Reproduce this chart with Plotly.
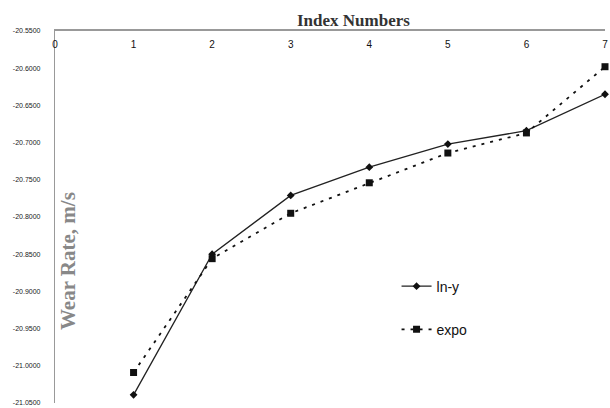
import plotly.graph_objects as go

index_numbers = [1, 2, 3, 4, 5, 6, 7]
ln_y = [-21.039, -20.850, -20.771, -20.733, -20.702, -20.684, -20.635]
expo = [-21.009, -20.856, -20.795, -20.754, -20.714, -20.687, -20.598]
x_ticks = [0, 1, 2, 3, 4, 5, 6, 7]
y_ticks = [-20.55, -20.60, -20.65, -20.70, -20.75, -20.80, -20.85, -20.90, -20.95, -21.00, -21.05]

fig = go.Figure()
fig.add_trace(go.Scatter(
    x=index_numbers, y=ln_y, name="ln-y", mode="lines+markers",
    line=dict(color="#222222", width=1.3),
    marker=dict(symbol="diamond", size=6, color="#111111"),
    cliponaxis=False, legendgroup="a"))
fig.add_trace(go.Scatter(
    x=index_numbers, y=expo, name="expo", mode="lines+markers",
    line=dict(color="#111111", width=1.8, dash="3px,6px"),
    marker=dict(symbol="square", size=7, color="#111111"),
    cliponaxis=False, legendgroup="b"))

# plot area target in page px: x 55..605, y 31..403
fig.update_layout(
    width=610, height=408,
    margin=dict(l=55, r=5, t=31, b=5),
    paper_bgcolor="white", plot_bgcolor="white",
    showlegend=True,
    legend=dict(x=0.621, y=0.356, xanchor="left", yanchor="top",
                font=dict(family="Liberation Sans, Arial", size=14, color="#111111"),
                bgcolor="rgba(0,0,0,0)", tracegroupgap=22, itemwidth=30),
    xaxis=dict(range=[0, 7], side="top", tickvals=x_ticks,
               ticktext=[str(v) for v in x_ticks],
               ticklabelposition="inside", ticklabeloverflow="allow",
               ticklabelstandoff=9,
               automargin=False, showgrid=False, zeroline=False,
               showline=True, linecolor="#999999", linewidth=1.5,
               ticks="", tickfont=dict(family="Liberation Sans, Arial", size=10, color="#111111")),
    yaxis=dict(range=[-21.05, -20.55], tickvals=y_ticks,
               ticktext=["%.4f" % v for v in y_ticks],
               automargin=False, ticklabeloverflow="allow",
               showgrid=False, zeroline=False, showline=True,
               linecolor="#999999", linewidth=1.2, ticks="",
               ticklabelstandoff=12,
               tickfont=dict(family="Liberation Sans, Arial", size=7, color="#222222")),
    annotations=[
        dict(text="<b>Index Numbers</b>", xref="paper", yref="paper",
             x=(353 - 55) / 550, y=1 + (31 - 20) / 372, xanchor="center", yanchor="middle",
             showarrow=False,
             font=dict(family="Liberation Serif, Times New Roman", size=17, color="#333333")),
        dict(text="<b>Wear Rate, m/s</b>", xref="paper", yref="paper",
             x=(68 - 55) / 550, y=(403 - 261) / 372, xanchor="center", yanchor="middle",
             textangle=-90, showarrow=False,
             font=dict(family="Liberation Serif, Times New Roman", size=21, color="#888888")),
    ],
)

fig.write_html("out.html", config={"displayModeBar": False},
               post_script="document.body.style.margin='0px';")
